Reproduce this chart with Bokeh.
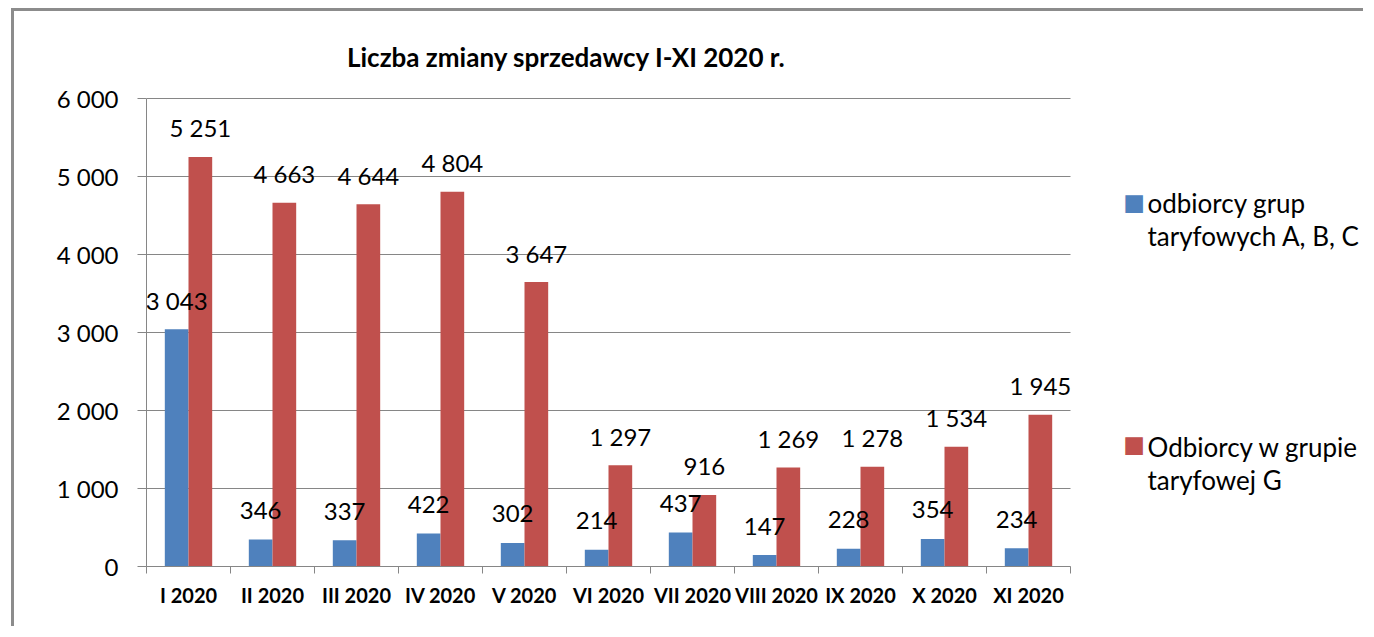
from bokeh.plotting import figure
from bokeh.models import Range1d, FixedTicker, Label, ColumnDataSource
from bokeh.core.properties import value
from bokeh.embed import file_html
from bokeh.resources import INLINE

categories = ["I 2020", "II 2020", "III 2020", "IV 2020", "V 2020", "VI 2020",
              "VII 2020", "VIII 2020", "IX 2020", "X 2020", "XI 2020"]
abc_values = [3043, 346, 337, 422, 302, 214, 437, 147, 228, 354, 234]
g_values = [5251, 4663, 4644, 4804, 3647, 1297, 916, 1269, 1278, 1534, 1945]
series_names = [["odbiorcy grup", "taryfowych A, B, C"], ["Odbiorcy w grupie", "taryfowej G"]]
title_text = "Liczba zmiany sprzedawcy I-XI 2020 r."
y_ticks = [0, 1000, 2000, 3000, 4000, 5000, 6000]

BLUE = "#4F81BD"
RED = "#C0504D"
GRID = "#868686"
FONT = "Lato"

def fmt(v):
    return f"{v:,}".replace(",", " ")

n = len(categories)
PX_X = 84.0            # pixels per category
PX_Y = 468.0 / 6000.0  # pixels per unit
frame_w = 1220
frame_h = 555
p = figure(width=1352, height=618, output_backend="svg", toolbar_location=None,
           x_range=Range1d(0, frame_w / PX_X), y_range=Range1d(0, frame_h / PX_Y),
           min_border_left=132, min_border_right=0, min_border_top=0, min_border_bottom=63,
           styles={"margin-left": "11px", "margin-top": "8px",
                   "border-left": "3px solid #8c8c8c",
                   "border-top": "3px solid #8c8c8c"})
p.outline_line_color = None
p.background_fill_color = "white"
p.border_fill_color = "white"

# grid lines limited to the plot area
p.segment(x0=[0] * len(y_ticks), x1=[n] * len(y_ticks), y0=y_ticks, y1=y_ticks,
          line_color=GRID, line_width=1)

bw = 0.282
centers = [i + 0.5 for i in range(n)]
src = ColumnDataSource(dict(
    xb=[c - bw / 2 for c in centers], xr=[c + bw / 2 for c in centers],
    abc=abc_values, g=g_values,
    abc_t=[fmt(v) for v in abc_values], g_t=[fmt(v) for v in g_values]))

p.vbar(x="xb", top="abc", width=bw, bottom=0, source=src, fill_color=BLUE, line_color=None)
p.vbar(x="xr", top="g", width=bw, bottom=0, source=src, fill_color=RED, line_color=None)

for xcol, tcol, ycol in (("xb", "abc_t", "abc"), ("xr", "g_t", "g")):
    p.text(x=xcol, y=ycol, text=tcol, source=src, y_offset=-29,
           text_align="center", text_baseline="alphabetic",
           text_font=value(FONT), text_font_size="24px", text_color="black")

# y axis
p.yaxis.bounds = (0, 6000)
p.yaxis.ticker = FixedTicker(ticks=y_ticks)
p.yaxis.major_label_overrides = {t: fmt(t) for t in y_ticks}
p.yaxis.axis_line_color = GRID
p.yaxis.major_tick_line_color = GRID
p.yaxis.major_tick_out = 9
p.yaxis.major_tick_in = 0
p.yaxis.minor_tick_line_color = None
p.yaxis.major_label_standoff = 19
p.yaxis.major_label_text_font = FONT
p.yaxis.major_label_text_font_size = "24px"
p.yaxis.major_label_text_color = "black"

# x axis
p.xaxis.bounds = (0, n)
p.xaxis.ticker = FixedTicker(ticks=centers, minor_ticks=list(range(n + 1)))
p.xaxis.major_label_overrides = {c: lab for c, lab in zip(centers, categories)}
p.xaxis.axis_line_color = GRID
p.xaxis.major_tick_line_color = None
p.xaxis.minor_tick_line_color = GRID
p.xaxis.minor_tick_out = 7
p.xaxis.minor_tick_in = 0
p.xaxis.major_label_standoff = 9
p.xaxis.major_label_text_font = FONT
p.xaxis.major_label_text_font_size = "20px"
p.xaxis.major_label_text_font_style = "bold"
p.xaxis.major_label_text_color = "black"

p.xgrid.visible = False
p.ygrid.visible = False

# title
p.add_layout(Label(x=(566 - 146) / PX_X, y=(566 - 56) / PX_Y, text=title_text,
                   text_align="center", text_baseline="alphabetic", text_font=FONT,
                   text_font_size="26px", text_font_style="bold", text_color="black"))

# legend (manual)
leg_colors = [BLUE, RED]
sq_py = [201, 443]
line_py = [[202, 235], [446, 479]]
for col, sy, names, ly in zip(leg_colors, sq_py, series_names, line_py):
    p.add_layout(Label(x=(1133.5 - 146) / PX_X, y=(566 - sy) / PX_Y, text="\u25A0",
                       text_align="center", text_baseline="middle",
                       text_font="DejaVu Sans", text_font_size="23px", text_color=col))
    for txt, yy in zip(names, ly):
        p.add_layout(Label(x=(1147 - 146) / PX_X, y=(566 - yy) / PX_Y, text=txt,
                           text_align="left", text_baseline="middle", text_font=FONT,
                           text_font_size="26px", text_color="black"))

open("out.html", "w").write(file_html(p, INLINE))
